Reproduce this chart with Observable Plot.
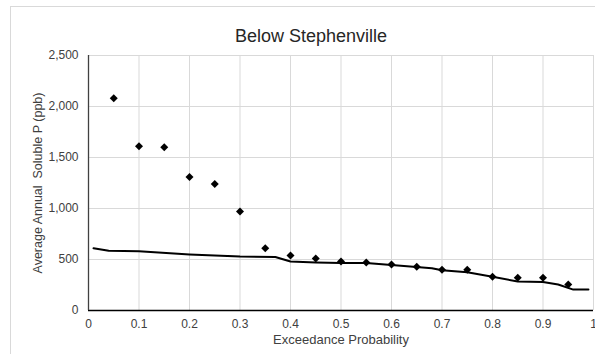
<!DOCTYPE html>
<html>
<head>
<meta charset="utf-8">
<script src="https://cdn.jsdelivr.net/npm/d3@7"></script>
<script src="https://cdn.jsdelivr.net/npm/@observablehq/plot@0.6"></script>
<style>
  html, body { margin: 0; padding: 0; background: #fff; }
  #wrap { position: relative; width: 595px; height: 354px; overflow: hidden; }
  #border { position: absolute; left: 10px; top: 6px; width: 600px; height: 360px; border: 1px solid #d9d9d9; box-sizing: border-box; }
  #chart { position: absolute; left: 0; top: 0; }
</style>
</head>
<body>
<div id="wrap"><div id="border"></div><div id="chart"></div></div>
<script>
const title = "Below Stephenville";
const xLabel = "Exceedance Probability";
const yLabel = "Average Annual  Soluble P (ppb)";

const pointX = [0.05, 0.10, 0.15, 0.20, 0.25, 0.30, 0.35, 0.40, 0.45, 0.50, 0.55, 0.60, 0.65, 0.70, 0.75, 0.80, 0.85, 0.90, 0.95];
const pointY = [2080, 1610, 1600, 1310, 1240, 970, 610, 540, 510, 480, 470, 450, 430, 400, 400, 330, 320, 320, 255];

const lineX = [0.01, 0.04, 0.10, 0.20, 0.30, 0.37, 0.40, 0.45, 0.50, 0.55, 0.60, 0.68, 0.70, 0.75, 0.80, 0.85, 0.90, 0.93, 0.96, 0.99];
const lineY = [610, 585, 580, 550, 530, 525, 480, 470, 465, 465, 445, 415, 395, 375, 330, 285, 280, 255, 205, 205];

const xTicks = [0, 0.1, 0.2, 0.3, 0.4, 0.5, 0.6, 0.7, 0.8, 0.9, 1];
const yTicks = [0, 500, 1000, 1500, 2000, 2500];

const points = pointX.map((x, i) => ({x, y: pointY[i]}));
const line = lineX.map((x, i) => ({x, y: lineY[i]}));

const chart = Plot.plot({
  width: 595,
  height: 354,
  marginLeft: 88,
  marginRight: 2,
  marginTop: 55,
  marginBottom: 44,
  style: { fontFamily: "Liberation Sans, Arial, sans-serif", fontSize: "11px", color: "#404040", background: "transparent", overflow: "visible" },
  x: { domain: [0, 1] },
  y: { domain: [0, 2500] },
  marks: [
    Plot.gridX(xTicks, { stroke: "#d9d9d9", strokeOpacity: 1, strokeWidth: 1 }),
    Plot.gridY(yTicks, { stroke: "#d9d9d9", strokeOpacity: 1, strokeWidth: 1 }),
    Plot.ruleY([0], { stroke: "#000", strokeWidth: 1.3 }),
    Plot.ruleX([0], { stroke: "#404040", strokeWidth: 1.3 }),
    Plot.axisX(xTicks, { tickSize: 0, tickPadding: 9, fontSize: 12, fill: "#404040", tickFormat: d => String(+d.toFixed(1)), label: null }),
    Plot.axisY(yTicks, { tickSize: 0, tickPadding: 10, fontSize: 12, fill: "#404040", tickFormat: d3.format(","), label: null }),
    Plot.text([xLabel], { frameAnchor: "bottom", textAnchor: "middle", dy: 33, fontSize: 13, fill: "#404040" }),
    Plot.text([yLabel], { frameAnchor: "left", textAnchor: "middle", rotate: -90, dx: -51, fontSize: 12.5, fill: "#404040" }),
    Plot.text([title], { frameAnchor: "top", textAnchor: "middle", dx: -30, dy: -26, fontSize: 18, fill: "#262626" }),
    Plot.line(line, { x: "x", y: "y", stroke: "#000", strokeWidth: 2 }),
    Plot.dot(points, { x: "x", y: "y", symbol: "diamond2", r: 3.6, fill: "#000", stroke: "none" })
  ]
});
document.getElementById("chart").appendChild(chart);
</script>
</body>
</html>
